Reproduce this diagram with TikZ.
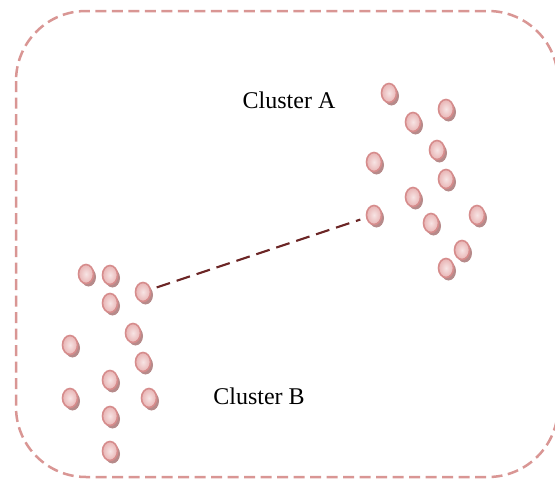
\documentclass[tikz,border=0pt]{standalone}
\usepackage{fontspec}
\setmainfont{Liberation Serif}
\usetikzlibrary{shapes.geometric, shadows}

\definecolor{boxred}{RGB}{217,150,148}
\definecolor{dotrim}{RGB}{214,140,140}
\definecolor{dotin}{RGB}{247,228,228}
\definecolor{dotout}{RGB}{232,180,180}
\definecolor{dotshadow}{RGB}{182,138,138}
\definecolor{linkbrown}{RGB}{108,38,38}

\tikzset{
  pt/.style={ellipse,draw=dotrim,line width=1.6pt,minimum width=15pt,
    minimum height=19pt,inner sep=0pt,inner color=dotin,outer color=dotout,
    drop shadow={shadow xshift=2.5pt,shadow yshift=-3pt,fill=dotshadow,opacity=1}},
  lbl/.style={font=\fontsize{24}{28}\selectfont,inner sep=0pt}
}

\begin{document}
\begin{tikzpicture}[x=1pt,y=-1pt]
\useasboundingbox (0,0) rectangle (555,482);
\clip (0,0) rectangle (555,482);

% outer region
\draw[boxred,line width=2.5pt,dash pattern=on 11pt off 5.5pt,rounded corners=70pt]
  (16,11) rectangle (558,477);

% cluster A
\node[pt] (a1) at (389,93) {};
\node[pt] (a2) at (413,122) {};
\node[pt] (a3) at (446,109) {};
\node[pt] (a4) at (437,150) {};
\node[pt] (a5) at (374,162) {};
\node[pt] (a6) at (446,179) {};
\node[pt] (a7) at (413,197) {};
\node[pt] (a8) at (374,215) {};
\node[pt] (a9) at (431,223) {};
\node[pt] (a10) at (477,215) {};
\node[pt] (a11) at (462,250) {};
\node[pt] (a12) at (446,268) {};

% cluster B
\node[pt] (b1) at (86,274) {};
\node[pt] (b2) at (110,275) {};
\node[pt] (b3) at (110,303) {};
\node[pt] (b4) at (143,292) {};
\node[pt] (b5) at (133,333) {};
\node[pt] (b6) at (70,345) {};
\node[pt] (b7) at (143,362) {};
\node[pt] (b8) at (110,380) {};
\node[pt] (b9) at (70,398) {};
\node[pt] (b10) at (149,398) {};
\node[pt] (b11) at (110,416) {};
\node[pt] (b12) at (110,451) {};

\node[lbl] (labA) at (289,100) {Cluster A};
\node[lbl] (labB) at (259,396) {Cluster B};

\draw[linkbrown,line width=2.2pt,dash pattern=on 14pt off 7pt,
  shorten <=6pt,shorten >=6pt] (b4)--(a8);

\end{tikzpicture}
\end{document}
